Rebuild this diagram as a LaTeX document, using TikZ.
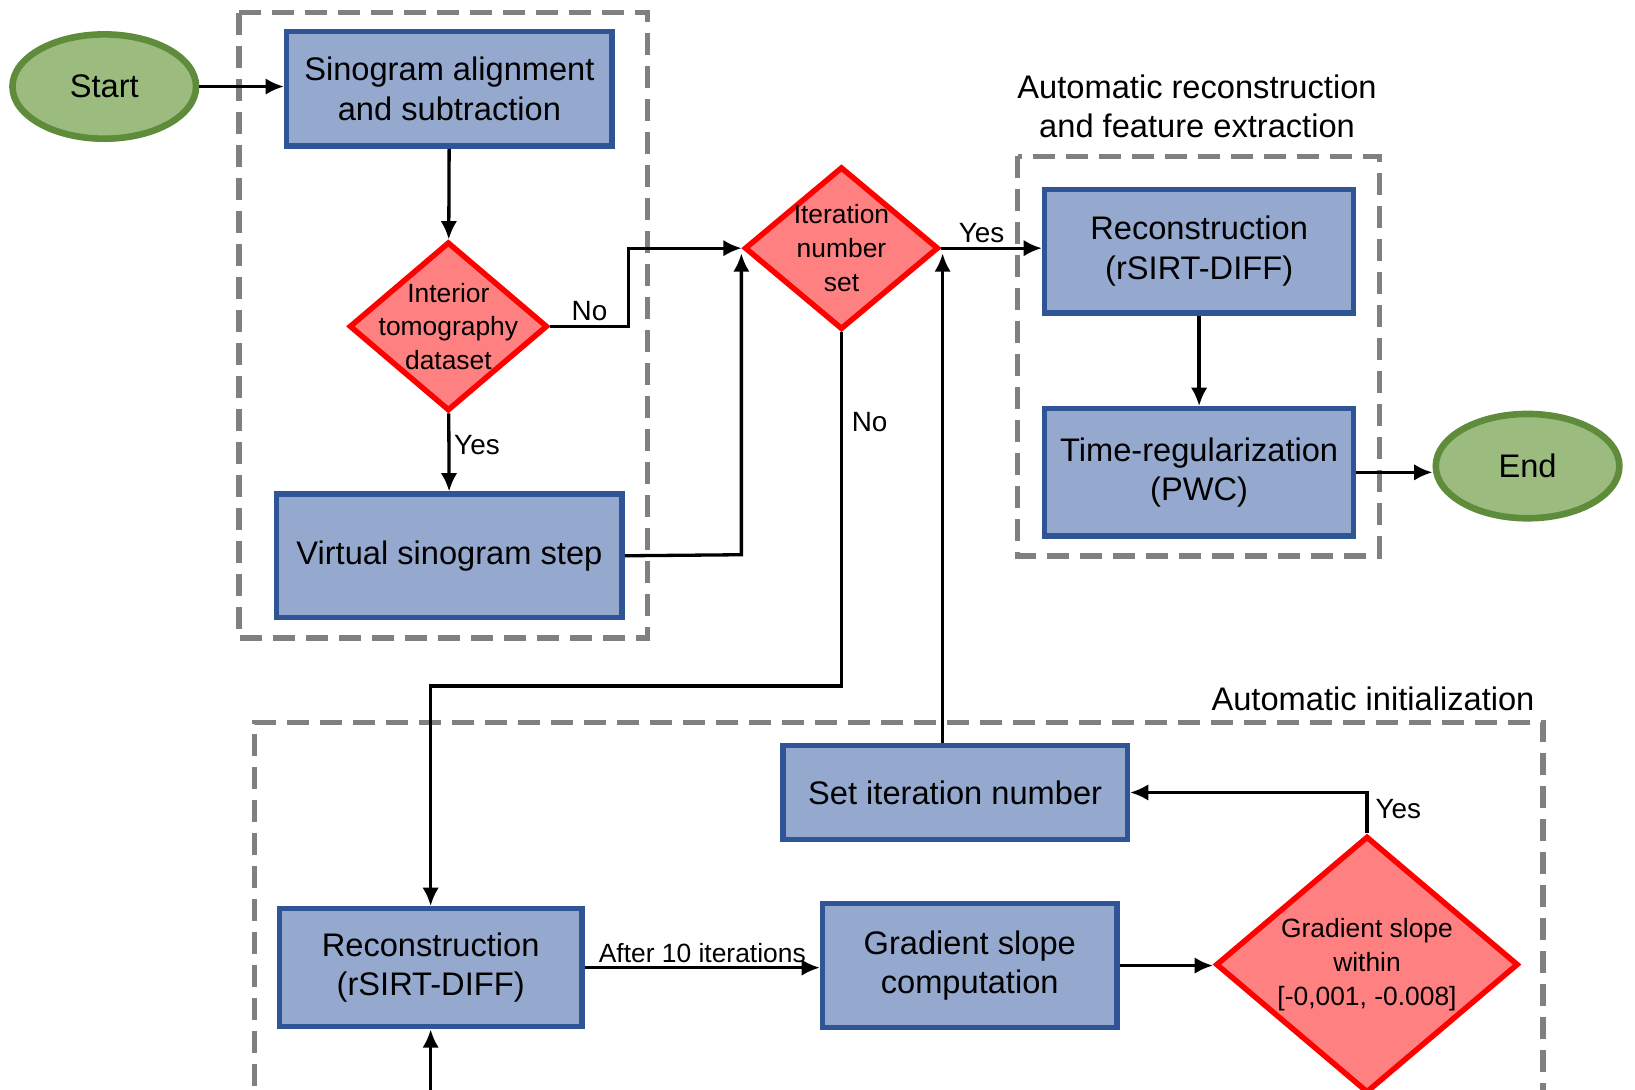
\documentclass[tikz,border=0pt]{standalone}
\usepackage{fontspec}
\setmainfont{Liberation Sans}
\usetikzlibrary{shapes.geometric,arrows.meta}
\definecolor{bfill}{HTML}{95A9CF}
\definecolor{bdraw}{HTML}{2F5597}
\definecolor{dfill}{HTML}{FF8080}
\definecolor{gfill}{HTML}{9BBB7F}
\definecolor{gdraw}{HTML}{5E8C3A}
\begin{document}
\begin{tikzpicture}[x=0.01cm,y=-0.01cm,
 box/.style={draw=bdraw,fill=bfill,line width=1.5pt,align=center,font=\fontsize{8.9}{10.8}\selectfont,inner sep=0pt},
 dia/.style={draw=red,fill=dfill,line width=1.5pt,align=center,font=\fontsize{7.2}{9.2}\selectfont,diamond,inner sep=-12pt},
 term/.style={draw=gdraw,fill=gfill,line width=1.8pt,ellipse,font=\fontsize{8.9}{10}\selectfont,inner sep=0pt,minimum width=1.76cm,minimum height=1.0cm},
 dbox/.style={draw=black!50,line width=1.5pt,dash pattern=on 6pt off 3pt},
 arr/.style={line width=0.9pt,-{Latex[length=5pt,width=4.5pt]}},
 lab/.style={font=\fontsize{7.6}{9}\selectfont,inner sep=1pt},
 ttl/.style={font=\fontsize{8.9}{10.8}\selectfont,align=center}]
\useasboundingbox (0,0) rectangle (1568,1045);
\draw[dbox] (229,12) rectangle (621,612);
\draw[dbox] (976,150) rectangle (1323,533);
\draw[dbox] (1480,1060) -- (1480,693) -- (244,693) -- (244,1060);
\node[ttl] (t2) at (1148,102) {Automatic reconstruction\\and feature extraction};
\node[ttl,anchor=east] (t3) at (1484,670) {Automatic initialization};

\node[term] (start) at (100,83) {Start};
\node[term] (end) at (1465,447) {End};

\node[box,minimum width=3.12cm,minimum height=1.1cm] (b1) at (431,85) {Sinogram alignment\\and subtraction};
\node[box,minimum width=3.31cm,minimum height=1.18cm] (b2) at (431,533) {Virtual sinogram step};
\node[box,minimum width=2.96cm,minimum height=1.18cm] (b3) at (1150,241) {Reconstruction\\(rSIRT-DIFF)};
\node[box,minimum width=2.96cm,minimum height=1.22cm] (b4) at (1150,453) {Time-regularization\\(PWC)};
\node[box,minimum width=3.30cm,minimum height=0.90cm] (b5) at (916,760) {Set iteration number};
\node[box,minimum width=2.90cm,minimum height=1.13cm] (b6) at (413,928) {Reconstruction\\(rSIRT-DIFF)};
\node[box,minimum width=2.82cm,minimum height=1.19cm] (b7) at (930,926) {Gradient slope\\computation};

\node[dia,minimum width=1.90cm,minimum height=1.62cm] (d1) at (430,313) {Interior\\tomography\\dataset};
\node[dia,minimum width=1.86cm,minimum height=1.56cm] (d2) at (807,238) {Iteration\\number\\set};
\node[dia,minimum width=2.90cm,minimum height=2.46cm] (d3) at (1311,925) {Gradient slope\\within\\{[}-0,001, -0.008{]}};

\draw[arr] (start.east) -- (start.east -| b1.west);
\draw[arr] (b1) -- (d1);
\draw[arr] (d1) -- node[lab,right,pos=0.4]{Yes} (b2);
\draw[arr] (d1.east) -- node[lab,above,pos=0.5]{No} (603,313) -- (603,238) -- (d2.west);
\draw[arr] (b2.east) -- (711,532) -- (711,243);
\draw[arr] (d2.east) -- node[lab,above,pos=0.4]{Yes} (d2.east -| b3.west);
\draw[arr] (d2.south) -- (807,658) -- (413,658) -- (b6.north);
\node[lab] (no2) at (834,405) {No};
\draw[arr] (b5.north -| 904,0) -- (904,243);
\draw[arr] (b3) -- (b4);
\draw[arr] (b4.east) -- (b4.east -| end.west);
\draw[arr] (b6.east) -- node[lab,above,font=\fontsize{7.2}{9}\selectfont]{After 10 iterations} (b6.east -| b7.west);
\draw[arr] (b7.east) -- (b7.east -| d3.west);
\draw[arr] (d3.north) -- (1311,760) -- (b5.east);
\node[lab] (yes3) at (1341,776) {Yes};
\coordinate (bot) at (413,1050);
\draw[arr] (bot) -- (b6.south);
\end{tikzpicture}
\end{document}
